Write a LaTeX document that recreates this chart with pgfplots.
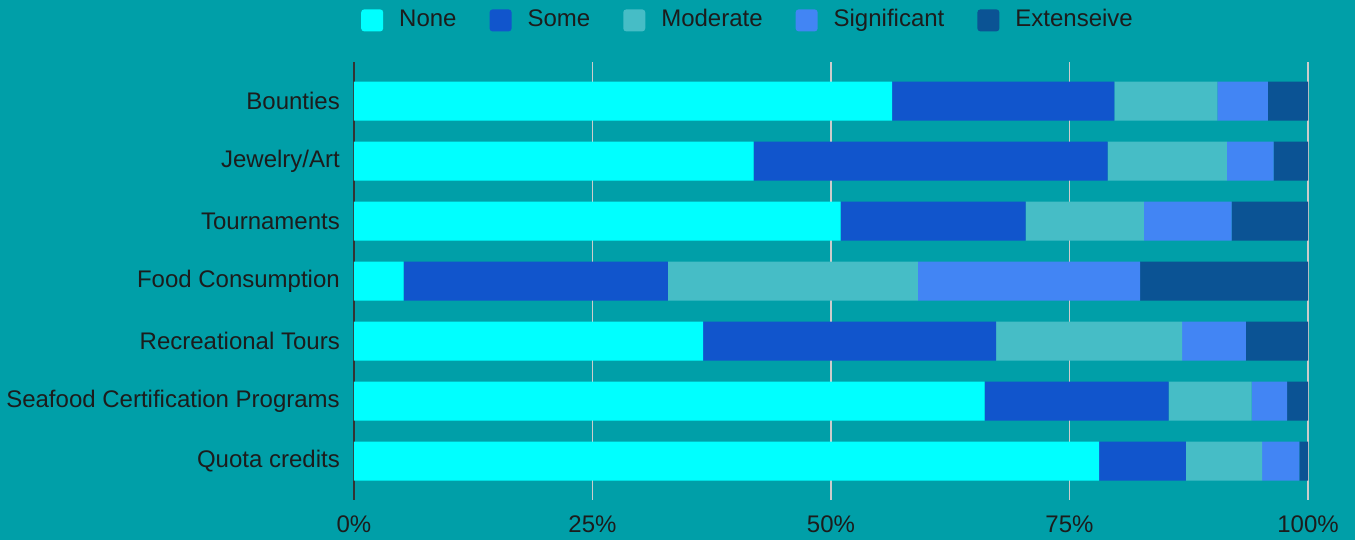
\documentclass[border=0pt]{standalone}
\usepackage{pgfplots}
\pgfplotsset{compat=1.18}
\usepackage{fontspec}
\setmainfont{Liberation Sans}

\definecolor{bg}{HTML}{009FA8}
\definecolor{cNone}{HTML}{00FFFF}
\definecolor{cSome}{HTML}{1155CC}
\definecolor{cModerate}{HTML}{46BDC6}
\definecolor{cSignificant}{HTML}{4285F4}
\definecolor{cExtensive}{HTML}{0B5394}
\definecolor{gridgrey}{HTML}{CCCCCC}
\definecolor{axisgrey}{HTML}{333333}
\definecolor{txt}{HTML}{1C1C1C}

\begin{document}
\fontsize{24}{29}\selectfont
\begin{tikzpicture}
\path[use as bounding box, fill=bg] (0,0) rectangle (1355pt,540pt);
\begin{axis}[
  at={(354pt,40pt)}, anchor=south west,
  scale only axis, width=954pt, height=438pt,
  xbar stacked, bar width=39pt,
  xmin=0, xmax=100, ymin=-0.65, ymax=6.65, y dir=reverse,
  ytick={0,...,6},
  yticklabels={Bounties,Jewelry/Art,Tournaments,Food Consumption,Recreational Tours,Seafood Certification Programs,Quota credits},
  xtick={25,50,75,100}, xticklabels={25\%,50\%,75\%,100\%},
  extra x ticks={0}, extra x tick labels={0\%},
  extra x tick style={grid style={color=axisgrey, line width=1.5pt}},
  xmajorgrids, grid style={color=gridgrey, line width=1.3pt},
  major tick length=0pt,
  axis line style={draw=none},
  tick label style={font=\fontsize{24}{29}\selectfont, text=txt},
  yticklabel style={inner sep=0pt, xshift=-14pt},
  xticklabel style={inner sep=0pt, yshift=-16pt},
  legend style={at={(0.413,1.095)}, anchor=center, draw=none, fill=none,
    font=\fontsize{24}{29}\selectfont, text=txt,
    nodes={text height=17pt, text depth=5pt},
    /tikz/every odd column/.append style={column sep=14pt},
    /tikz/every even column/.append style={column sep=31pt}},
  legend columns=-1,
  legend image code/.code={\fill[#1, draw=none, rounded corners=3pt] (0pt,-11pt) rectangle (22pt,11pt);},
]
% None
\addplot[fill=cNone, draw=none] coordinates {(56.4,0) (41.9,1) (51.0,2) (5.2,3) (36.6,4) (66.1,5) (78.1,6)};
% Some
\addplot[fill=cSome, draw=none] coordinates {(23.3,0) (37.1,1) (19.4,2) (27.7,3) (30.7,4) (19.3,5) (9.1,6)};
% Moderate
\addplot[fill=cModerate, draw=none] coordinates {(10.8,0) (12.5,1) (12.4,2) (26.2,3) (19.5,4) (8.7,5) (8.0,6)};
% Significant
\addplot[fill=cSignificant, draw=none] coordinates {(5.3,0) (4.9,1) (9.2,2) (23.3,3) (6.7,4) (3.7,5) (3.9,6)};
% Extensive
\addplot[fill=cExtensive, draw=none] coordinates {(4.2,0) (3.6,1) (8.0,2) (17.6,3) (6.5,4) (2.2,5) (0.9,6)};
\legend{None,Some,Moderate,Significant,Extenseive}
\end{axis}
\end{tikzpicture}
\end{document}
